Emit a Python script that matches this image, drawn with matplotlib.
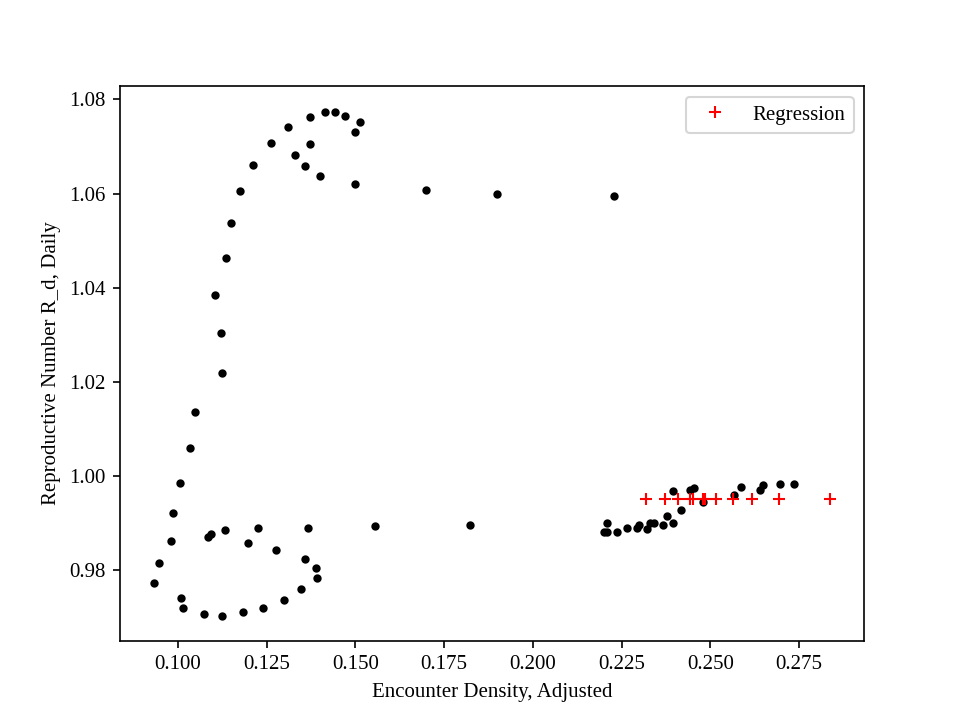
import matplotlib
matplotlib.use("Agg")
import matplotlib.pyplot as plt

plt.rcParams['font.family'] = ['Liberation Serif', 'DejaVu Serif']

# encounter density vs daily reproductive number
density = [
    0.1135, 0.1150, 0.1175, 0.1212, 0.1262, 0.1310, 0.1372, 0.1415, 0.1443,
    0.1471, 0.1513, 0.1499, 0.1372, 0.1330, 0.1358, 0.1401, 0.1499,
    0.1700, 0.1900, 0.2230,
    0.1104, 0.1121, 0.1124, 0.1048, 0.1034,
    0.1006, 0.0986, 0.0980, 0.0946, 0.0932, 0.1008, 0.1014, 0.1073, 0.1125,
    0.1183, 0.1240, 0.1299, 0.1347, 0.1392, 0.1389, 0.1358, 0.1276, 0.1197,
    0.1084, 0.1093, 0.1133, 0.1226, 0.1367, 0.1556, 0.1822,
    0.2202, 0.2208, 0.2208, 0.2237, 0.2265, 0.2293, 0.2300, 0.2321, 0.2331,
    0.2342, 0.2368, 0.2378, 0.2396, 0.2396, 0.2417, 0.2443, 0.2453, 0.2481,
    0.2566, 0.2586, 0.2641, 0.2650, 0.2697, 0.2735,
]
r_daily = [
    1.0464, 1.0538, 1.0606, 1.0661, 1.0708, 1.0742, 1.0763, 1.0774, 1.0774,
    1.0765, 1.0751, 1.0730, 1.0706, 1.0682, 1.0659, 1.0638, 1.0621,
    1.0608, 1.0600, 1.0595,
    1.0385, 1.0303, 1.0220, 1.0137, 1.0059,
    0.9986, 0.9921, 0.9863, 0.9815, 0.9774, 0.9742, 0.9721, 0.9708, 0.9704,
    0.9711, 0.9721, 0.9738, 0.9760, 0.9783, 0.9804, 0.9825, 0.9844, 0.9859,
    0.9871, 0.9878, 0.9885, 0.9889, 0.9891, 0.9895, 0.9897,
    0.9882, 0.9882, 0.9900, 0.9882, 0.9889, 0.9891, 0.9896, 0.9887, 0.9900,
    0.9900, 0.9897, 0.9915, 0.9900, 0.9969, 0.9929, 0.9971, 0.9974, 0.9946,
    0.9961, 0.9978, 0.9971, 0.9981, 0.9984, 0.9983,
]

# regression points
reg_x = [0.2318, 0.2373, 0.2408, 0.2442, 0.2451, 0.2479, 0.2486, 0.2516,
         0.2564, 0.2618, 0.2694, 0.2838]
reg_y = [0.9951] * len(reg_x)

fig = plt.figure(figsize=(6.4, 4.8), dpi=150)
plt.plot(density, r_daily, 'k.', linestyle='none')
plt.plot(reg_x, reg_y, 'r+', linestyle='none', label='Regression')
plt.legend(loc='upper right')
plt.xlabel('Encounter Density, Adjusted')
plt.ylabel('Reproductive Number R_d, Daily')

plt.savefig('out.png', dpi=150)
